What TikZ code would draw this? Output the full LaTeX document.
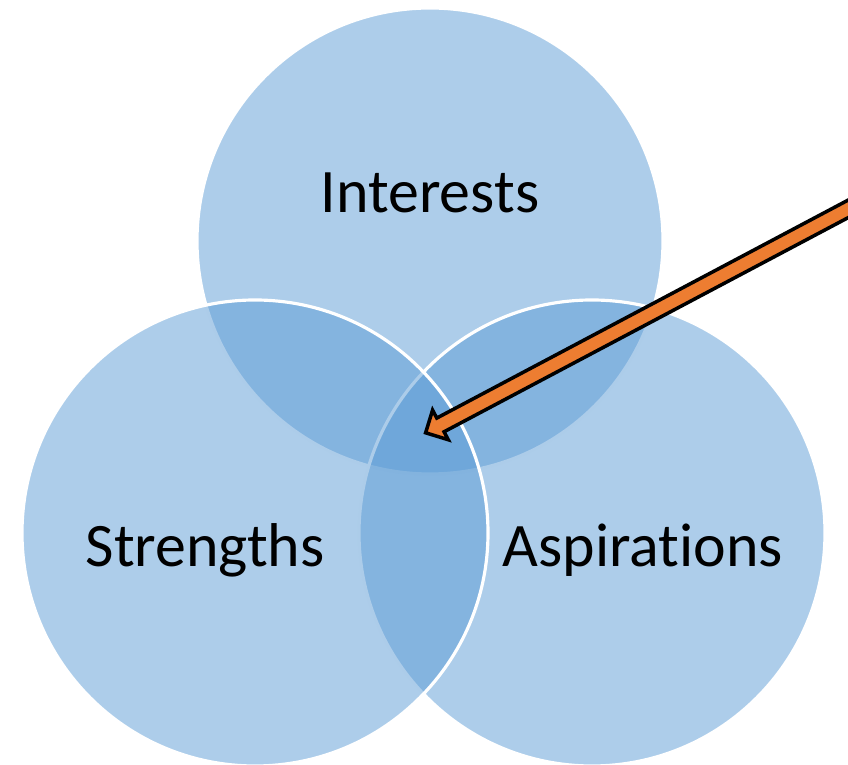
\documentclass[tikz,border=0pt]{standalone}
\usepackage{fontspec}
\setmainfont[Ligatures=NoCommon]{Carlito}
\usepackage{xcolor}
\usepackage{tikz}
\usetikzlibrary{shapes,arrows,positioning,calc,arrows.meta}
\definecolor{vennblue}{HTML}{5B9BD5}
\definecolor{arroworange}{HTML}{ED7D31}

\begin{document}
\begin{tikzpicture}[
    venn/.style={circle, minimum size=4.66cm, inner sep=0pt, fill=vennblue, fill opacity=0.5, draw=white, draw opacity=1, line width=0.9pt},
    lbl/.style={anchor=base, font=\fontsize{17.6pt}{20pt}\selectfont},
    pointer/.style={single arrow, draw=black, fill=arroworange, line width=1pt, inner xsep=0pt, inner ysep=0.06cm, minimum width=0.30cm, single arrow head extend=0.09cm, single arrow tip angle=90, sloped, allow upside down}
]
    \useasboundingbox (0,0) rectangle (8.48,7.65);
    \clip (0,0) rectangle (8.48,7.65);

    % Circles
    \node[venn] (interests) at (4.30,5.24) {};
    \node[venn] (aspirations) at (5.92,2.32) {};
    \node[venn] (strengths) at (2.55,2.32) {};

    % Labels
    \node[lbl] (tInterests) at ([yshift=0.28cm]interests.center) {Interests};
    \node[lbl] (tStrengths) at ([xshift=-0.50cm, yshift=-0.34cm]strengths.center) {Strengths};
    \node[lbl] (tAspirations) at ([xshift=0.51cm, yshift=-0.34cm]aspirations.center) {Aspirations};

    % Arrow into the middle
    \coordinate (core) at (4.29,3.34);
    \coordinate (tail) at (8.70,5.677);
    \path (tail) -- (core) node[pointer, pos=0.5, minimum height=4.99cm] (pointer) {};
\end{tikzpicture}
\end{document}
